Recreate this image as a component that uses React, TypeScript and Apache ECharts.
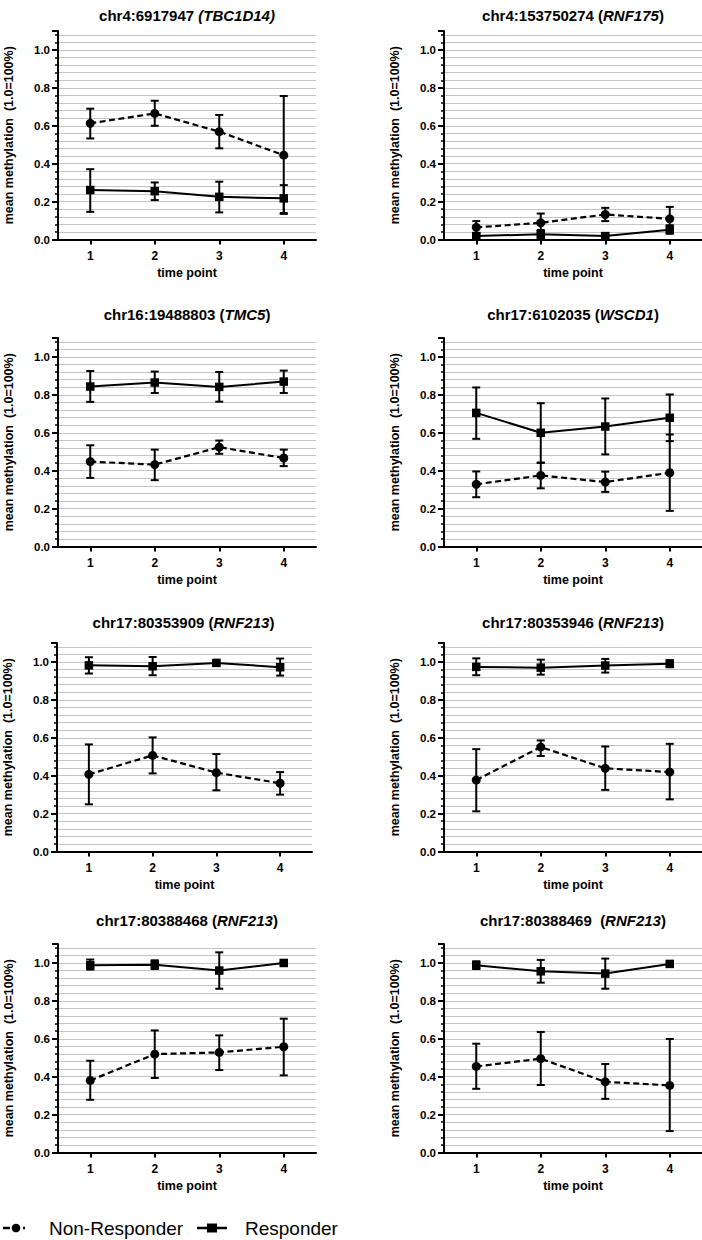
import React, { useEffect, useRef } from "react";
import * as echarts from "echarts";

// ---- data ----
const timePoints = ["1", "2", "3", "4"];

// title parts: [prefix, italic gene, suffix]
const titlePrefix = [
  "chr4:6917947 ",
  "chr4:153750274 (",
  "chr16:19488803 (",
  "chr17:6102035 (",
  "chr17:80353909 (",
  "chr17:80353946 (",
  "chr17:80388468 (",
  "chr17:80388469 \u00a0(",
];
const titleGene = ["(TBC1D14)", "RNF175", "TMC5", "WSCD1", "RNF213", "RNF213", "RNF213", "RNF213"];
const titleSuffix = ["", ")", ")", ")", ")", ")", ")", ")"];

// Non-Responder (circle, dashed)
const nrMean = [
  [0.613, 0.665, 0.569, 0.445],
  [0.064, 0.088, 0.132, 0.109],
  [0.448, 0.432, 0.524, 0.467],
  [0.328, 0.375, 0.340, 0.389],
  [0.407, 0.507, 0.416, 0.360],
  [0.377, 0.551, 0.439, 0.419],
  [0.380, 0.519, 0.528, 0.558],
  [0.454, 0.495, 0.373, 0.354],
];
const nrLow = [
  [0.533, 0.600, 0.481, 0.135],
  [0.031, 0.038, 0.097, 0.047],
  [0.362, 0.350, 0.489, 0.424],
  [0.260, 0.307, 0.288, 0.188],
  [0.249, 0.412, 0.323, 0.300],
  [0.212, 0.504, 0.325, 0.275],
  [0.278, 0.393, 0.435, 0.407],
  [0.336, 0.356, 0.283, 0.113],
];
const nrHigh = [
  [0.690, 0.732, 0.657, 0.757],
  [0.097, 0.137, 0.167, 0.172],
  [0.534, 0.511, 0.559, 0.511],
  [0.396, 0.442, 0.395, 0.591],
  [0.565, 0.602, 0.514, 0.419],
  [0.540, 0.586, 0.554, 0.568],
  [0.484, 0.644, 0.618, 0.706],
  [0.574, 0.636, 0.467, 0.599],
];

// Responder (square, solid)
const rMean = [
  [0.261, 0.255, 0.225, 0.217],
  [0.018, 0.028, 0.018, 0.052],
  [0.844, 0.865, 0.842, 0.870],
  [0.705, 0.600, 0.633, 0.679],
  [0.982, 0.977, 0.995, 0.972],
  [0.974, 0.970, 0.981, 0.991],
  [0.988, 0.991, 0.960, 1.000],
  [0.988, 0.956, 0.944, 0.995],
];
const rLow = [
  [0.146, 0.208, 0.143, 0.140],
  [0.004, 0.006, 0.008, 0.030],
  [0.763, 0.810, 0.764, 0.810],
  [0.568, 0.442, 0.486, 0.556],
  [0.939, 0.930, 0.981, 0.928],
  [0.930, 0.933, 0.944, 0.972],
  [0.965, 0.968, 0.864, 0.995],
  [0.968, 0.896, 0.864, 0.990],
];
const rHigh = [
  [0.371, 0.301, 0.305, 0.287],
  [0.032, 0.050, 0.028, 0.075],
  [0.926, 0.923, 0.921, 0.928],
  [0.839, 0.756, 0.781, 0.802],
  [1.025, 1.026, 1.009, 1.018],
  [1.019, 1.012, 1.016, 1.009],
  [1.018, 1.014, 1.056, 1.005],
  [1.009, 1.016, 1.023, 1.000],
];

const yTickLabels = ["0.0", "0.2", "0.4", "0.6", "0.8", "1.0"];
const seriesNames = ["Non-Responder", "Responder"];

// ---- layout ----
const FONT = "'Liberation Sans', Arial, Helvetica, sans-serif";
const gridTops = [31, 338, 643, 944];
const gridH = 208.5;
const colLeft = [58, 444];
const gridW = 258;
const titleY = [15, 314, 622, 920];

function buildOption() {
  const grids: any[] = [];
  const xAxes: any[] = [];
  const yAxes: any[] = [];
  const series: any[] = [];
  const graphic: any[] = [];

  for (let i = 0; i < 8; i++) {
    const row = Math.floor(i / 2);
    const col = i % 2;
    let left = colLeft[col];
    let width = gridW;
    if (row === 2 && col === 0) {
      left = 55;
      width = 257;
    }
    grids.push({ left, top: gridTops[row], width, height: gridH, containLabel: false });

    xAxes.push({
      gridIndex: i,
      type: "category",
      data: timePoints,
      boundaryGap: true,
      axisLine: { show: true, lineStyle: { color: "#000", width: 2 } },
      axisTick: { show: true, alignWithLabel: true, length: 5, lineStyle: { color: "#000", width: 2 } },
      axisLabel: { color: "#000", fontWeight: "bold", fontSize: 12, fontFamily: FONT, margin: 10 },
      splitLine: { show: false },
      name: "time point",
      nameLocation: "middle",
      nameGap: 27,
      nameTextStyle: { color: "#000", fontWeight: "bold", fontSize: 12.5, fontFamily: FONT },
    });

    yAxes.push({
      gridIndex: i,
      type: "value",
      min: 0,
      max: 1.1,
      interval: 0.2,
      axisLine: { show: true, onZero: false, lineStyle: { color: "#000", width: 2 } },
      axisTick: { show: true, length: 6, lineStyle: { color: "#000", width: 2 } },
      minorTick: { show: true, splitNumber: 5, length: 3, lineStyle: { color: "#000", width: 1.5 } },
      splitLine: { show: true, showMaxLine: false, lineStyle: { color: "#c4c4c4", width: 1 } },
      minorSplitLine: { show: true, lineStyle: { color: "#c4c4c4", width: 1 } },
      axisLabel: {
        color: "#000",
        fontWeight: "bold",
        fontSize: 11.5,
        fontFamily: FONT,
        margin: 8,
        formatter: (v: number) => {
          const idx = Math.round(v / 0.2);
          if (Math.abs(v - idx * 0.2) > 1e-6 || idx >= yTickLabels.length) return "";
          return yTickLabels[idx];
        },
      },
      name: "mean methylation \u00a0(1.0=100%)",
      nameLocation: "middle",
      nameGap: 43,
      nameTextStyle: { color: "#000", fontWeight: "bold", fontSize: 12.5, fontFamily: FONT },
    });

    const errRender = (params: any, api: any) => {
      const x = api.value(0);
      const lo = api.coord([x, api.value(1)]);
      const hi = api.coord([x, api.value(2)]);
      const cw = 4;
      const st = { stroke: "#000", lineWidth: 2 };
      return {
        type: "group",
        children: [
          { type: "line", shape: { x1: lo[0], y1: lo[1], x2: hi[0], y2: hi[1] }, style: st },
          { type: "line", shape: { x1: lo[0] - cw, y1: lo[1], x2: lo[0] + cw, y2: lo[1] }, style: st },
          { type: "line", shape: { x1: hi[0] - cw, y1: hi[1], x2: hi[0] + cw, y2: hi[1] }, style: st },
        ],
      };
    };

    series.push({
      type: "custom",
      name: seriesNames[0] + " error",
      xAxisIndex: i,
      yAxisIndex: i,
      renderItem: errRender,
      encode: { x: 0, y: [1, 2] },
      data: nrMean[i].map((_, k) => [k, nrLow[i][k], nrHigh[i][k]]),
      z: 3,
      silent: true,
    });
    series.push({
      type: "custom",
      name: seriesNames[1] + " error",
      xAxisIndex: i,
      yAxisIndex: i,
      renderItem: errRender,
      encode: { x: 0, y: [1, 2] },
      data: rMean[i].map((_, k) => [k, rLow[i][k], rHigh[i][k]]),
      z: 3,
      silent: true,
    });
    series.push({
      type: "line",
      name: seriesNames[0],
      xAxisIndex: i,
      yAxisIndex: i,
      data: nrMean[i],
      symbol: "circle",
      symbolSize: 9,
      showSymbol: true,
      itemStyle: { color: "#000" },
      lineStyle: { color: "#000", width: 2.2, type: [6, 3.5] },
      z: 4,
    });
    series.push({
      type: "line",
      name: seriesNames[1],
      xAxisIndex: i,
      yAxisIndex: i,
      data: rMean[i],
      symbol: "rect",
      symbolSize: 8.5,
      showSymbol: true,
      itemStyle: { color: "#000" },
      lineStyle: { color: "#000", width: 2 },
      z: 4,
    });

    const cx = left + width / 2;
    graphic.push({
      type: "text",
      x: cx,
      y: titleY[row],
      style: {
        text: `{b|${titlePrefix[i]}}{it|${titleGene[i]}}{b|${titleSuffix[i]}}`,
        align: "center",
        verticalAlign: "middle",
        rich: {
          b: { fontFamily: FONT, fontSize: 15, fontWeight: "bold", fill: "#000" },
          it: { fontFamily: FONT, fontSize: 15, fontWeight: "bold", fontStyle: "italic", fill: "#000" },
        },
      },
    });
  }

  // legend (drawn)
  const ly = 1228;
  graphic.push(
    { type: "line", shape: { x1: 3, y1: ly, x2: 25, y2: ly }, style: { stroke: "#000", lineWidth: 2.5, lineDash: [7, 13] } },
    { type: "circle", shape: { cx: 16, cy: ly, r: 4.3 }, style: { fill: "#000" } },
    { type: "text", x: 49, y: ly, style: { text: seriesNames[0], fontFamily: FONT, fontSize: 19, fill: "#000", align: "left", verticalAlign: "middle" } },
    { type: "line", shape: { x1: 197, y1: ly, x2: 227, y2: ly }, style: { stroke: "#000", lineWidth: 2.5 } },
    { type: "rect", shape: { x: 207, y: ly - 4.5, width: 10, height: 9 }, style: { fill: "#000" } },
    { type: "text", x: 245, y: ly, style: { text: seriesNames[1], fontFamily: FONT, fontSize: 19, fill: "#000", align: "left", verticalAlign: "middle" } }
  );

  return {
    animation: false,
    backgroundColor: "#fff",
    grid: grids,
    xAxis: xAxes,
    yAxis: yAxes,
    series,
    graphic,
  };
}

export default function App() {
  const ref = useRef<HTMLDivElement>(null);
  useEffect(() => {
    if (!ref.current) return;
    const chart = echarts.init(ref.current, undefined, { renderer: "svg" });
    chart.setOption(buildOption() as any);
    return () => chart.dispose();
  }, []);
  return (
    <div
      ref={ref}
      style={{ position: "absolute", left: 0, top: 0, width: 702, height: 1240, background: "#fff" }}
    />
  );
}
